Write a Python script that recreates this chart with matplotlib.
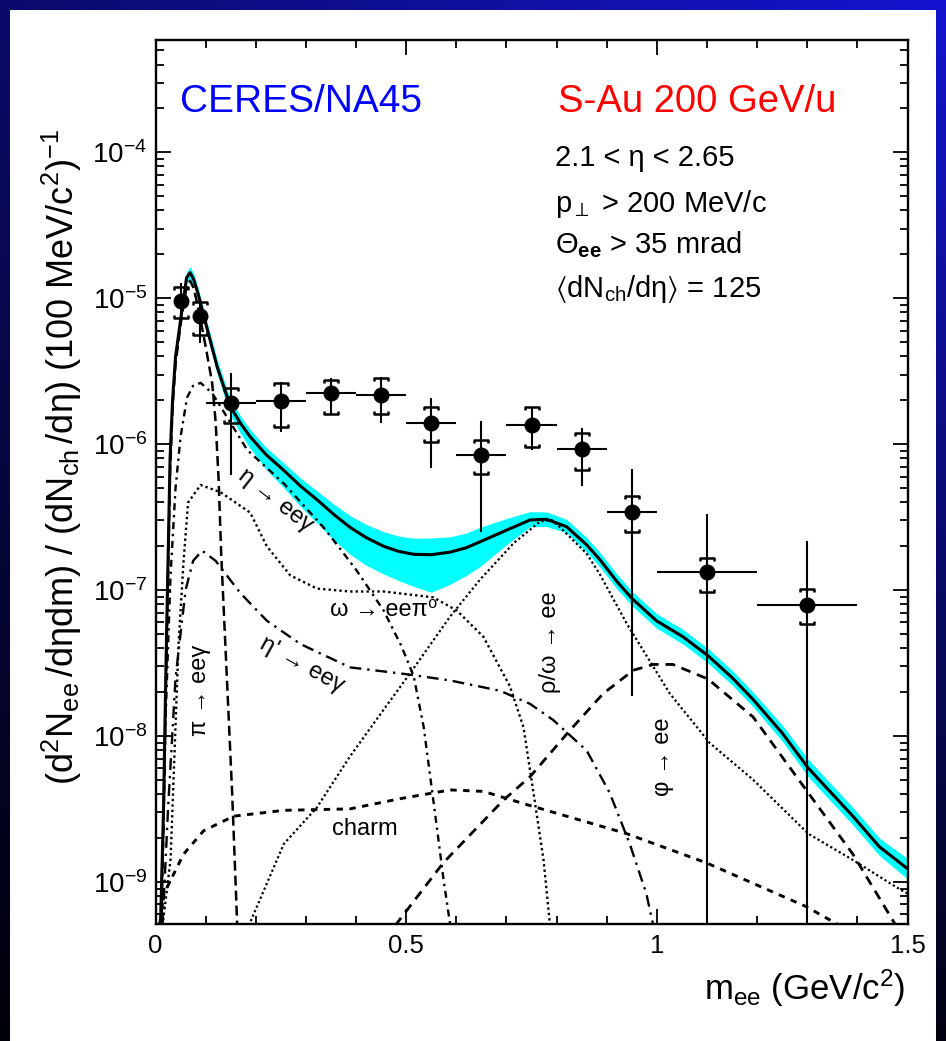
import numpy as np
import matplotlib
matplotlib.use('Agg')
import matplotlib.pyplot as plt
from matplotlib.path import Path
from matplotlib.patches import Rectangle
from matplotlib.ticker import MultipleLocator, FuncFormatter, LogLocator, NullFormatter, LogFormatterSciNotation

plt.rcParams['font.family'] = ['Liberation Sans', 'DejaVu Sans']
plt.rcParams['mathtext.fontset'] = 'custom'
plt.rcParams['mathtext.rm'] = 'Liberation Sans'
plt.rcParams['mathtext.it'] = 'Liberation Sans:italic'
plt.rcParams['mathtext.bf'] = 'Liberation Sans:bold'
plt.rcParams['mathtext.sf'] = 'Liberation Sans'
plt.rcParams['mathtext.default'] = 'regular'
plt.rcParams['mathtext.fallback'] = 'stixsans'

# ---------------- data ----------------
# measured points
pt_x = [0.05, 0.088, 0.15, 0.25, 0.35, 0.45, 0.55, 0.65, 0.75, 0.85, 0.95, 1.10, 1.30]
pt_y = [9.6e-6, 7.6e-6, 1.91e-6, 1.97e-6, 2.23e-6, 2.17e-6, 1.39e-6, 8.4e-7, 1.35e-6, 9.2e-7, 3.41e-7, 1.32e-7, 7.9e-8]
bin_lo = [0.05, 0.088, 0.1, 0.2, 0.3, 0.4, 0.5, 0.6, 0.7, 0.8, 0.9, 1.0, 1.2]
bin_hi = [0.05, 0.088, 0.2, 0.3, 0.4, 0.5, 0.6, 0.7, 0.8, 0.9, 1.0, 1.2, 1.4]
stat_hi = [1.27e-5, 1.0e-5, 3.07e-6, 2.68e-6, 2.82e-6, 2.90e-6, 2.06e-6, 1.43e-6, 1.80e-6, 1.30e-6, 6.75e-7, 3.30e-7, 2.18e-7]
stat_lo = [6.55e-6, 4.93e-6, 6.14e-7, 1.22e-6, 1.58e-6, 1.39e-6, 6.83e-7, 2.51e-7, 9.12e-7, 5.16e-7, 1.88e-8, 1e-10, 1e-10]
sys_hi = [1.19e-5, 9.42e-6, 2.42e-6, 2.61e-6, 2.75e-6, 2.82e-6, 1.80e-6, 1.07e-6, 1.79e-6, 1.20e-6, 4.41e-7, 1.67e-7, 1.02e-7]
sys_lo = [7.31e-6, 5.6e-6, 1.40e-6, 1.32e-6, 1.62e-6, 1.62e-6, 1.04e-6, 6.24e-7, 9.51e-7, 6.64e-7, 2.51e-7, 9.64e-8, 5.85e-8]

# total cocktail (log10 of yield) and its systematic band (in decades)
total_x = [0.010, 0.016, 0.021, 0.025, 0.029, 0.034, 0.040, 0.052, 0.062, 0.069,
           0.076, 0.085, 0.100, 0.123, 0.149, 0.170, 0.189, 0.220, 0.256, 0.290,
           0.322, 0.355, 0.388, 0.420, 0.455, 0.485, 0.515, 0.550, 0.588, 0.620,
           0.647, 0.700, 0.747, 0.780, 0.820, 0.860, 0.886, 0.920, 0.951, 0.999,
           1.052, 1.102, 1.150, 1.192, 1.250, 1.302, 1.391, 1.444, 1.500]
total_log = [-9.30, -8.50, -7.50, -6.80, -6.10, -5.70, -5.40, -5.10, -4.86, -4.825,
             -4.87, -4.97, -5.17, -5.47, -5.74, -5.86, -5.95, -6.07, -6.18, -6.29,
             -6.38, -6.48, -6.57, -6.64, -6.70, -6.735, -6.755, -6.758, -6.74, -6.71,
             -6.67, -6.59, -6.52, -6.515, -6.566, -6.69, -6.79, -6.94, -7.06, -7.21,
             -7.32, -7.45, -7.60, -7.75, -7.98, -8.22, -8.55, -8.76, -8.91]
band_up = [0.04, 0.04, 0.04, 0.04, 0.04, 0.04, 0.04, 0.04, 0.04, 0.04,
           0.04, 0.04, 0.04, 0.05, 0.05, 0.05, 0.05, 0.05, 0.05, 0.055,
           0.06, 0.07, 0.08, 0.09, 0.10, 0.105, 0.11, 0.115, 0.105, 0.10,
           0.10, 0.08, 0.057, 0.05, 0.05, 0.05, 0.05, 0.05, 0.05, 0.05,
           0.05, 0.05, 0.05, 0.05, 0.055, 0.06, 0.06, 0.06, 0.07]
band_dn = [0.04, 0.04, 0.04, 0.04, 0.04, 0.04, 0.04, 0.04, 0.04, 0.04,
           0.04, 0.04, 0.04, 0.05, 0.06, 0.07, 0.08, 0.10, 0.12, 0.14,
           0.16, 0.175, 0.185, 0.19, 0.19, 0.20, 0.22, 0.257, 0.22, 0.19,
           0.17, 0.10, 0.046, 0.05, 0.04, 0.05, 0.05, 0.05, 0.05, 0.05,
           0.05, 0.05, 0.05, 0.05, 0.055, 0.06, 0.06, 0.06, 0.07]

# individual sources (log10 of yield)
pi_x = [0.010, 0.016, 0.021, 0.025, 0.029, 0.034, 0.040, 0.052, 0.062, 0.069, 0.076,
        0.085, 0.100, 0.113, 0.120, 0.126, 0.131, 0.137, 0.145, 0.153, 0.163]
pi_log = [-9.30, -8.60, -7.60, -6.90, -6.20, -5.75, -5.45, -5.13, -4.92, -4.88, -4.93,
          -5.06, -5.33, -5.58, -5.85, -6.25, -6.75, -7.20, -7.80, -8.40, -9.30]

eta_x = [0.012, 0.020, 0.030, 0.040, 0.050, 0.063, 0.075, 0.090, 0.113, 0.140, 0.183,
         0.256, 0.335, 0.369, 0.402, 0.455, 0.490, 0.515, 0.535, 0.548, 0.561, 0.574, 0.588]
eta_log = [-9.30, -7.90, -6.90, -6.30, -5.95, -5.68, -5.60, -5.58, -5.65, -5.80, -6.04,
           -6.27, -6.57, -6.72, -6.87, -7.14, -7.38, -7.59, -7.94, -8.28, -8.62, -8.97, -9.30]

omd_x = [0.014, 0.030, 0.046, 0.056, 0.065, 0.090, 0.130, 0.189, 0.222, 0.269, 0.322,
         0.388, 0.455, 0.554, 0.601, 0.654, 0.707, 0.734, 0.754, 0.774, 0.787]
omd_log = [-9.30, -8.85, -7.37, -6.80, -6.40, -6.28, -6.33, -6.47, -6.70, -6.90, -6.99,
           -7.01, -7.01, -7.05, -7.14, -7.32, -7.66, -7.94, -8.39, -8.85, -9.30]

etap_x = [0.014, 0.025, 0.040, 0.060, 0.075, 0.093, 0.120, 0.169, 0.222, 0.289, 0.388,
          0.508, 0.588, 0.687, 0.747, 0.793, 0.860, 0.906, 0.946, 0.979, 0.993]
etap_log = [-9.30, -8.50, -7.60, -7.00, -6.80, -6.73, -6.80, -7.02, -7.21, -7.37, -7.53,
            -7.58, -7.62, -7.69, -7.78, -7.89, -8.10, -8.39, -8.74, -9.08, -9.30]

rho_x = [0.186, 0.256, 0.322, 0.388, 0.455, 0.508, 0.588, 0.647, 0.714, 0.767, 0.790,
         0.807, 0.860, 0.886, 0.940, 1.026, 1.106, 1.192, 1.302, 1.391, 1.484, 1.500]
rho_log = [-9.30, -8.74, -8.49, -8.14, -7.82, -7.57, -7.18, -6.93, -6.68, -6.53, -6.52,
           -6.57, -6.75, -6.89, -7.23, -7.71, -8.05, -8.30, -8.67, -8.85, -9.05, -9.08]

phi_x = [0.478, 0.574, 0.694, 0.747, 0.827, 0.893, 0.953, 0.993, 1.032, 1.102, 1.192,
         1.302, 1.391, 1.477]
phi_log = [-9.30, -8.87, -8.44, -8.28, -7.96, -7.71, -7.55, -7.51, -7.51, -7.61, -7.87,
           -8.39, -8.81, -9.30]

charm_x = [0.008, 0.017, 0.056, 0.096, 0.156, 0.256, 0.388, 0.488, 0.588, 0.654, 0.740,
           0.940, 1.099, 1.298, 1.365]
charm_log = [-9.30, -9.08, -8.81, -8.65, -8.55, -8.51, -8.50, -8.43, -8.37, -8.38, -8.47,
             -8.67, -8.87, -9.17, -9.30]

x_ticklabels = ['0', '0.5', '1', '1.5']

# ---------------- figure ----------------
W, H = 946, 1041
fig = plt.figure(figsize=(W / 100, H / 100), dpi=100)

# slide background: blue gradient with white panel
bg = fig.add_axes([0, 0, 1, 1], zorder=-10)
yy, xx = np.mgrid[0:1:300j, 0:1:300j]
b = (0.42 + 0.40 * xx) * (1 - 0.92 * yy)
img = np.dstack([0.10 * b, 0.10 * b, b])
bg.imshow(img, extent=[0, 1, 0, 1], origin='upper', aspect='auto')
bg.add_patch(Rectangle((10 / W, 0), (936 - 10) / W, (H - 10) / H,
                       transform=bg.transAxes, facecolor='white', edgecolor='none', zorder=3))
bg.set_xlim(0, 1); bg.set_ylim(0, 1)
bg.axis('off')

ax = fig.add_axes([155.5 / W, (H - 924) / H, 752 / W, 884 / H])
ax.set_facecolor('white')
ax.set_yscale('log')
ax.set_xlim(0, 1.5)
ax.set_ylim(10 ** -9.289, 10 ** -3.230)

tl = np.array(total_log)
ax.fill_between(total_x, 10 ** (tl + np.array(band_up)), 10 ** (tl - np.array(band_dn)),
                color='#00ffff', lw=0, zorder=2)

def curve(xs, ys_log, lw, dashes=None, z=3):
    line, = ax.plot(xs, 10 ** np.array(ys_log), color='black', lw=lw, zorder=z,
                    solid_capstyle='butt', dash_capstyle='butt', solid_joinstyle='round')
    if dashes is not None:
        line.set_dashes(dashes)
    return line

curve(pi_x, pi_log, 1.8, (4, 2))
curve(eta_x, eta_log, 1.7, (3, 2, 1, 2))
curve(omd_x, omd_log, 1.7, (1, 1.3))
curve(etap_x, etap_log, 1.7, (5, 2.5, 1, 2.5))
curve(rho_x, rho_log, 1.6, (1, 1.2))
curve(phi_x, phi_log, 2.0, (3.5, 2.5))
curve(charm_x, charm_log, 2.1, (2.2, 2.2))
curve(total_x, total_log, 2.2, None, z=4)

# data points with statistical errors
px = np.array(pt_x); py = np.array(pt_y)
ax.errorbar(px, py,
            yerr=[py - np.array(stat_lo), np.array(stat_hi) - py],
            xerr=[px - np.array(bin_lo), np.array(bin_hi) - px],
            fmt='o', color='black', ms=10.5, elinewidth=1.5, capsize=0, zorder=6)

# systematic brackets
top_br = Path([(-1, -0.5), (-1, 0), (1, 0), (1, -0.5)],
              [Path.MOVETO, Path.LINETO, Path.LINETO, Path.LINETO])
bot_br = Path([(-1, 0.5), (-1, 0), (1, 0), (1, 0.5)],
              [Path.MOVETO, Path.LINETO, Path.LINETO, Path.LINETO])
ax.plot(px, sys_hi, ls='none', marker=top_br, ms=9.5, mec='black', mfc='none', mew=1.8, zorder=7)
ax.plot(px, sys_lo, ls='none', marker=bot_br, ms=9.5, mec='black', mfc='none', mew=1.8, zorder=7)

# ticks
ax.xaxis.set_major_locator(MultipleLocator(0.5))
ax.xaxis.set_minor_locator(MultipleLocator(0.1))
ax.xaxis.set_major_formatter(FuncFormatter(lambda v, p: x_ticklabels[int(round(v / 0.5))]
                                           if 0 <= int(round(v / 0.5)) < len(x_ticklabels) else ''))
ax.yaxis.set_major_locator(LogLocator(base=10, numticks=20))
ax.yaxis.set_minor_locator(LogLocator(base=10, subs=np.arange(2, 10), numticks=20))
ax.yaxis.set_major_formatter(LogFormatterSciNotation())
ax.yaxis.set_minor_formatter(NullFormatter())
ax.tick_params(which='both', direction='in', top=True, right=True, width=1.3, color='black')
ax.tick_params(which='major', length=11)
ax.tick_params(which='minor', length=6)
ax.tick_params(axis='x', which='major', labelsize=18.5, pad=7)
ax.tick_params(axis='y', which='major', labelsize=20, pad=6)
for s in ax.spines.values():
    s.set_linewidth(1.7)

# annotations
fam = ['Liberation Sans', 'DejaVu Sans']
ax.text(0.0326, 0.9186, 'CERES/NA45', transform=ax.transAxes, color='#0000ff',
        fontsize=28, ha='left', va='baseline', family=fam)
ax.text(0.535, 0.9186, 'S-Au 200 GeV/u', transform=ax.transAxes, color='#ff0000',
        fontsize=27.5, ha='left', va='baseline', family=fam)
info = ['2.1 < η < 2.65',
        r'p$_{\perp}$ > 200 MeV/c',
        r'$\Theta_{\mathbf{ee}}$ > 35 mrad',
        r'$\langle$dN$_{ch}$/d$\eta\rangle$ = 125']
info_y = [0.8575, 0.8054, 0.759, 0.7093]
for t, yv in zip(info, info_y):
    ax.text(0.531, yv, t, transform=ax.transAxes, fontsize=21, ha='left', va='baseline', family=fam)

lab_fs = 17
ax.text(0.239, 10 ** -6.383, 'η → eeγ', rotation=-38, fontsize=lab_fs, ha='center', va='center',
        family=fam, rotation_mode='anchor', zorder=8)
ax.text(0.456, 10 ** -7.137, 'ω → eeπ⁰', fontsize=lab_fs, ha='center', va='center', family=fam, zorder=8)
ax.text(0.292, 10 ** -7.514, "η' → eeγ", rotation=-29, fontsize=lab_fs, ha='center', va='center',
        family=fam, rotation_mode='anchor', zorder=8)
ax.text(0.0888, 10 ** -7.685, 'π → eeγ', rotation=90, fontsize=lab_fs, ha='center', va='center',
        family=fam, zorder=8)
ax.text(0.787, 10 ** -7.356, 'ρ/ω → ee', rotation=90, fontsize=lab_fs, ha='center', va='center',
        family=fam, zorder=8)
ax.text(1.0125, 10 ** -8.145, 'φ → ee', rotation=90, fontsize=lab_fs, ha='center', va='center',
        family=fam, zorder=8)
ax.text(0.418, 10 ** -8.638, 'charm', fontsize=lab_fs, ha='center', va='center', family=fam, zorder=8)

fig.text(905 / W, (H - 1000) / H, r'm$_{ee}$ (GeV/c$^{2}$)', fontsize=25, ha='right', va='baseline',
         family=fam)
fig.text(62 / W, 1 - 457 / H,
         r'$(d^{2}N_{ee}\,/d\eta dm)\ /\ (dN_{ch}\,/d\eta)\ (100\ MeV/c^{2})^{-1}$',
         rotation=90, fontsize=26, ha='center', va='center', family=fam)

fig.savefig('out.png', dpi=100)
